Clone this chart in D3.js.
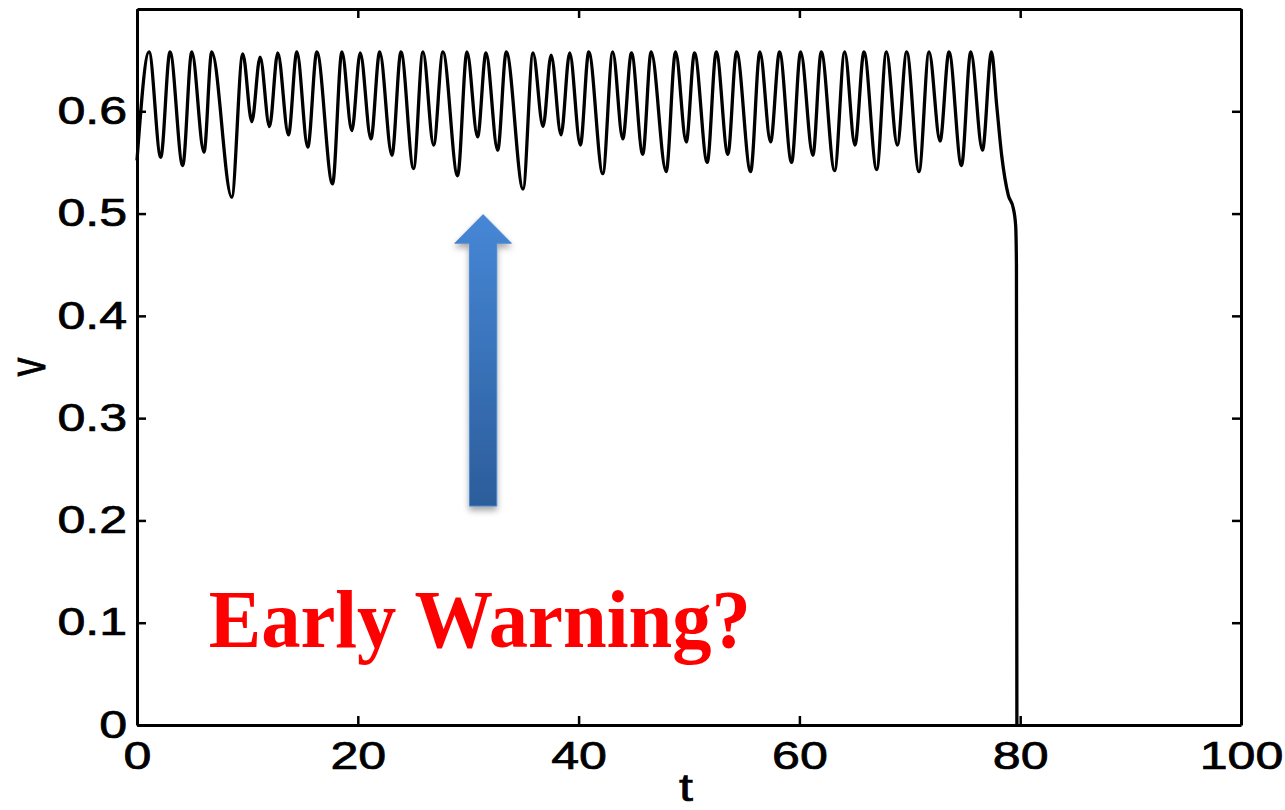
<!DOCTYPE html>
<html>
<head>
<meta charset="utf-8">
<script src="https://cdn.jsdelivr.net/npm/d3@7"></script>
<style>
  body { margin: 0; background: #fff; }
  svg { display: block; }
  .axis text, .title { font-family: "Liberation Sans", Arial, sans-serif; font-size: 38px; fill: #000; stroke: #000; stroke-width: 0.7px; }
</style>
</head>
<body>
<div id="chart"></div>
<script>
const signal = [
  [0, 0.552], [1.09, 0.658], [2.15, 0.555], [2.99, 0.658], [4.14, 0.547],
  [4.96, 0.658], [6.07, 0.560], [6.77, 0.658], [8.58, 0.516], [9.58, 0.656],
  [10.4, 0.590], [11.15, 0.653], [12.0, 0.585], [12.75, 0.657], [13.72, 0.577],
  [14.48, 0.658], [15.47, 0.565], [16.29, 0.658], [17.71, 0.529], [18.56, 0.658],
  [19.46, 0.581], [20.22, 0.657], [21.19, 0.573], [21.98, 0.658], [23.09, 0.557],
  [23.91, 0.658], [25.05, 0.544], [25.9, 0.658], [26.87, 0.567], [27.71, 0.658],
  [29.04, 0.537], [29.89, 0.658], [30.85, 0.575], [31.61, 0.657], [32.67, 0.562],
  [33.45, 0.658], [34.97, 0.524], [35.87, 0.657], [36.78, 0.585], [37.51, 0.655],
  [38.41, 0.577], [39.19, 0.657], [40.16, 0.567], [40.92, 0.658], [42.19, 0.539],
  [43.09, 0.658], [44.0, 0.573], [44.79, 0.657], [45.81, 0.558], [46.57, 0.658],
  [47.93, 0.541], [48.78, 0.658], [49.75, 0.570], [50.5, 0.657], [51.65, 0.550],
  [52.47, 0.658], [53.52, 0.558], [54.31, 0.658], [55.58, 0.541], [56.42, 0.658],
  [57.39, 0.570], [58.2, 0.658], [59.29, 0.550], [60.11, 0.658], [61.22, 0.557],
  [61.98, 0.658], [63.19, 0.542], [64.1, 0.658], [65.03, 0.567], [65.85, 0.658],
  [67.0, 0.543], [67.88, 0.658], [68.87, 0.567], [69.72, 0.658], [70.83, 0.541],
  [71.74, 0.658], [72.74, 0.571], [73.55, 0.658], [74.68, 0.547], [75.52, 0.658],
  [76.58, 0.562], [77.4, 0.658], [77.87, 0.606], [78.32, 0.557], [78.92, 0.518],
  [79.38, 0.505], [79.59, 0.488], [79.66, 0.45], [79.7, 0]
];

const xTicks = [0, 20, 40, 60, 80, 100];
const yTicks = [0, 0.1, 0.2, 0.3, 0.4, 0.5, 0.6];
const yTickLabels = ['0', '0.1', '0.2', '0.3', '0.4', '0.5', '0.6'];
const xLabel = 't';
const yLabel = 'v';
const noteText = 'Early Warning?';

///////// Setup //////////
const margin = { top: 9, right: 44, bottom: 85, left: 137 };
const width = 1285 - margin.left - margin.right;
const height = 810 - margin.top - margin.bottom;
const stretch = 1.32; // tick labels in the picture are stretched sideways

const svg = d3.select('#chart')
  .append('svg')
  .attr('width', 1285)
  .attr('height', 810);

const defs = svg.append('defs');
const grad = defs.append('linearGradient')
  .attr('id', 'arrowFill')
  .attr('x1', 0).attr('y1', 0).attr('x2', 0).attr('y2', 1);
grad.append('stop').attr('offset', '0%').attr('stop-color', '#4687d6');
grad.append('stop').attr('offset', '100%').attr('stop-color', '#2c5d9b');
defs.append('filter')
  .attr('id', 'shadow')
  .attr('x', '-50%').attr('y', '-20%').attr('width', '200%').attr('height', '140%')
  .append('feDropShadow')
  .attr('dx', 0).attr('dy', 4).attr('stdDeviation', 3)
  .attr('flood-color', '#000').attr('flood-opacity', 0.35);

const group = svg.append('g')
  .attr('transform', 'translate(' + margin.left + ',' + margin.top + ')');

const xScale = d3.scaleLinear().domain([0, 100]).range([0, width]);
const yScale = d3.scaleLinear().domain([0, 0.7]).range([height, 0]);

//////// Axes (matlab-style box, ticks inward) ////////
const tick = 9;
const xAxis = d3.axisBottom(xScale).tickValues(xTicks).tickSizeInner(-tick).tickSizeOuter(0).tickPadding(17);
const yAxis = d3.axisLeft(yScale).tickValues(yTicks).tickSizeInner(-tick).tickSizeOuter(0)
  .tickPadding(7.5).tickFormat((d, i) => yTickLabels[i]);
const xTop = d3.axisTop(xScale).tickValues(xTicks).tickSizeInner(-tick).tickSizeOuter(0).tickFormat('');
const yRight = d3.axisRight(yScale).tickValues(yTicks).tickSizeInner(-tick).tickSizeOuter(0).tickFormat('');

const xg = group.append('g').attr('class', 'axis').attr('transform', 'translate(0,' + height + ')').call(xAxis);
const yg = group.append('g').attr('class', 'axis').call(yAxis);
group.append('g').attr('class', 'axis').call(xTop);
group.append('g').attr('class', 'axis').attr('transform', 'translate(' + width + ',0)').call(yRight);

group.selectAll('.axis .domain').attr('stroke', '#000').attr('stroke-width', 3);
group.selectAll('.axis .tick line').attr('stroke', '#000').attr('stroke-width', 2.5);
xg.selectAll('text').attr('transform', 'scale(' + stretch + ',1)');
yg.selectAll('text').attr('transform', 'scale(' + stretch + ',1)');

//////// Signal ////////
const line = d3.line()
  .x((d) => xScale(d[0]))
  .y((d) => yScale(d[1]))
  .curve(d3.curveMonotoneX);

group.append('path')
  .datum(signal)
  .attr('fill', 'none')
  .attr('stroke', '#000')
  .attr('stroke-width', 3.3)
  .attr('stroke-linejoin', 'round')
  .attr('d', line);

//////// Axis titles ////////
svg.append('text')
  .attr('class', 'title')
  .attr('transform', 'translate(' + (margin.left + xScale(50) - 3) + ',801) scale(' + stretch + ',1)')
  .attr('text-anchor', 'middle')
  .text(xLabel);

svg.append('text')
  .attr('class', 'title')
  .attr('transform', 'translate(45,' + (margin.top + yScale(0.35)) + ') scale(' + stretch + ',1) rotate(-90)')
  .attr('text-anchor', 'middle')
  .text(yLabel);

//////// Annotation: arrow + question ////////
const ax = 31.35;
const shaftHalf = 1.24, headHalf = 2.57;
const arrowPts = [
  [ax - shaftHalf, 0.214], [ax - shaftHalf, 0.471], [ax - headHalf, 0.471],
  [ax, 0.499], [ax + headHalf, 0.471], [ax + shaftHalf, 0.471], [ax + shaftHalf, 0.214]
];
group.append('polygon')
  .attr('points', arrowPts.map((p) => xScale(p[0]) + ',' + yScale(p[1])).join(' '))
  .attr('fill', 'url(#arrowFill)')
  .attr('stroke', '#4f8ad3')
  .attr('stroke-width', 1)
  .attr('filter', 'url(#shadow)');

group.append('text')
  .attr('x', xScale(6.5))
  .attr('y', yScale(0.0764))
  .attr('textLength', 542)
  .attr('lengthAdjust', 'spacingAndGlyphs')
  .style('font-family', '"Liberation Serif", "Times New Roman", serif')
  .style('font-weight', 'bold')
  .style('font-size', '82px')
  .attr('fill', '#ff0000')
  .text(noteText);
</script>
</body>
</html>
